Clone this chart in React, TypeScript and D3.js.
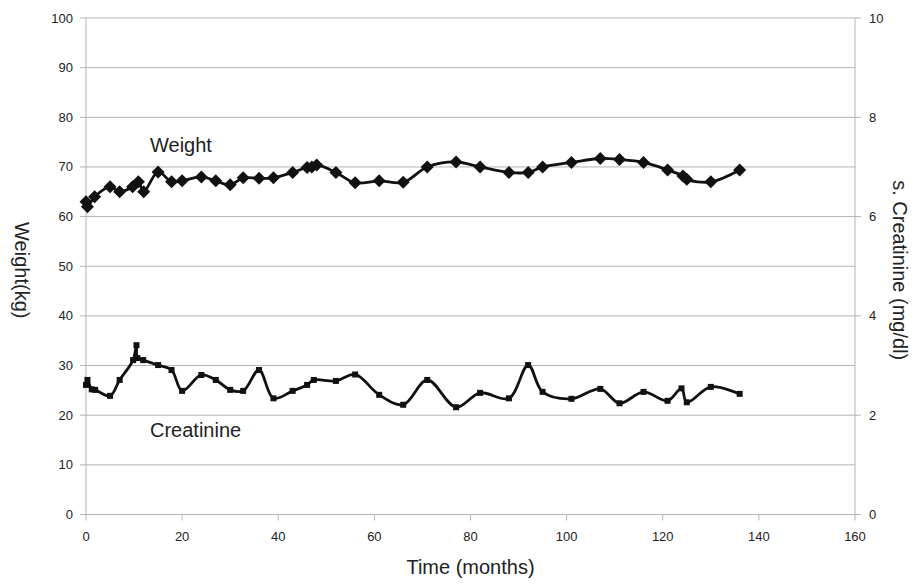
import React from "react";
import * as d3 from "d3";

const weightX = [0, 0.3, 1.8, 5, 7, 9.7, 10.9, 12, 15, 17.8, 20, 24, 27, 30, 32.7, 36, 39, 43, 46, 47, 48, 52, 56, 61, 66, 71, 77, 82, 88, 92, 95, 101, 107, 111, 116, 121, 124.2, 125, 130, 136];
const weightY = [63, 62, 64, 66, 65, 66, 67, 65, 69, 67, 67.2, 68, 67.2, 66.4, 67.8, 67.7, 67.8, 68.9, 69.9, 70, 70.4, 68.9, 66.8, 67.2, 66.9, 70, 71, 70, 68.9, 68.9, 70, 70.9, 71.7, 71.5, 70.9, 69.4, 68.2, 67.5, 67, 69.4];

const creatX = [0, 0.3, 1.2, 1.9, 5, 7, 9.8, 10.5, 10.7, 11.9, 15, 17.8, 20, 24, 27, 30, 32.7, 36, 39, 43, 46, 47.4, 52, 56, 61, 66, 71, 77, 82, 88, 92, 95, 101, 107, 111, 116, 121, 123.9, 125, 130, 136];
const creatY = [2.61, 2.71, 2.52, 2.51, 2.39, 2.71, 3.11, 3.41, 3.15, 3.11, 3.01, 2.91, 2.49, 2.81, 2.71, 2.51, 2.49, 2.91, 2.34, 2.49, 2.61, 2.71, 2.69, 2.82, 2.41, 2.21, 2.71, 2.16, 2.45, 2.34, 3.01, 2.47, 2.33, 2.53, 2.24, 2.47, 2.29, 2.54, 2.26, 2.57, 2.43];

const xTicks = [0, 20, 40, 60, 80, 100, 120, 140, 160];
const leftTicks = [0, 10, 20, 30, 40, 50, 60, 70, 80, 90, 100];
const rightTicks = [0, 2, 4, 6, 8, 10];

const FONT = "Liberation Sans, Arial, Helvetica, sans-serif";

export default function App() {
  const W = 921, H = 587;
  const L = 86, R = 855, T = 18, B = 514.5;
  const x = d3.scaleLinear().domain([0, 160]).range([L, R]);
  const yL = d3.scaleLinear().domain([0, 100]).range([B, T]);
  const yR = d3.scaleLinear().domain([0, 10]).range([B, T]);

  const wData = weightX.map((v, i) => [v, weightY[i]] as [number, number]);
  const cData = creatX.map((v, i) => [v, creatY[i]] as [number, number]);

  const wLine = d3.line<[number, number]>().x(d => x(d[0])).y(d => yL(d[1])).curve(d3.curveCatmullRom.alpha(0.5));
  const cLine = d3.line<[number, number]>().x(d => x(d[0])).y(d => yR(d[1])).curve(d3.curveCatmullRom.alpha(0.5));

  const grid = "#b3b3b3";
  return (
    <svg width={W} height={H} style={{ position: "absolute", left: 0, top: 0, background: "#fff" }} fontFamily={FONT}>
      {leftTicks.map(t => (
        <g key={"l" + t}>
          <line x1={L - 6} x2={R} y1={yL(t)} y2={yL(t)} stroke={grid} strokeWidth={1} />
          <text x={L - 13} y={yL(t) + 4.5} textAnchor="end" fontSize={13} fill="#222">{t}</text>
        </g>
      ))}
      {rightTicks.map(t => (
        <g key={"r" + t}>
          <line x1={R} x2={R + 6} y1={yR(t)} y2={yR(t)} stroke={grid} strokeWidth={1} />
          <text x={R + 14} y={yR(t) + 4.5} textAnchor="start" fontSize={13} fill="#222">{t}</text>
        </g>
      ))}
      <line x1={L} x2={L} y1={T} y2={B} stroke={grid} strokeWidth={1} />
      <line x1={R} x2={R} y1={T} y2={B} stroke={grid} strokeWidth={1} />
      {xTicks.map(t => (
        <g key={"x" + t}>
          <line x1={x(t)} x2={x(t)} y1={B} y2={B + 6} stroke={grid} strokeWidth={1} />
          <text x={x(t)} y={B + 26} textAnchor="middle" fontSize={13} fill="#222">{t}</text>
        </g>
      ))}

      <path d={wLine(wData) || ""} fill="none" stroke="#111" strokeWidth={2.8} />
      {wData.map((d, i) => (
        <path key={"wm" + i} transform={`translate(${x(d[0])},${yL(d[1])})`} d="M0,-6.5L6.5,0L0,6.5L-6.5,0Z" fill="#111" />
      ))}
      <path d={cLine(cData) || ""} fill="none" stroke="#111" strokeWidth={2.8} />
      {cData.map((d, i) => (
        <rect key={"cm" + i} x={x(d[0]) - 3} y={yR(d[1]) - 3} width={6} height={6} fill="#111" />
      ))}

      <text x={150} y={152} fontSize={20} fill="#222">Weight</text>
      <text x={150} y={437} fontSize={20} fill="#222">Creatinine</text>

      <text x={(L + R) / 2} y={574} textAnchor="middle" fontSize={20} fill="#222">Time (months)</text>
      <text transform={`translate(15,${(T + B) / 2 + 4}) rotate(90)`} textAnchor="middle" fontSize={20} fill="#222">Weight(kg)</text>
      <text transform={`translate(893,${(T + B) / 2 + 4}) rotate(90)`} textAnchor="middle" fontSize={20} fill="#222">s. Creatinine (mg/dl)</text>
    </svg>
  );
}
